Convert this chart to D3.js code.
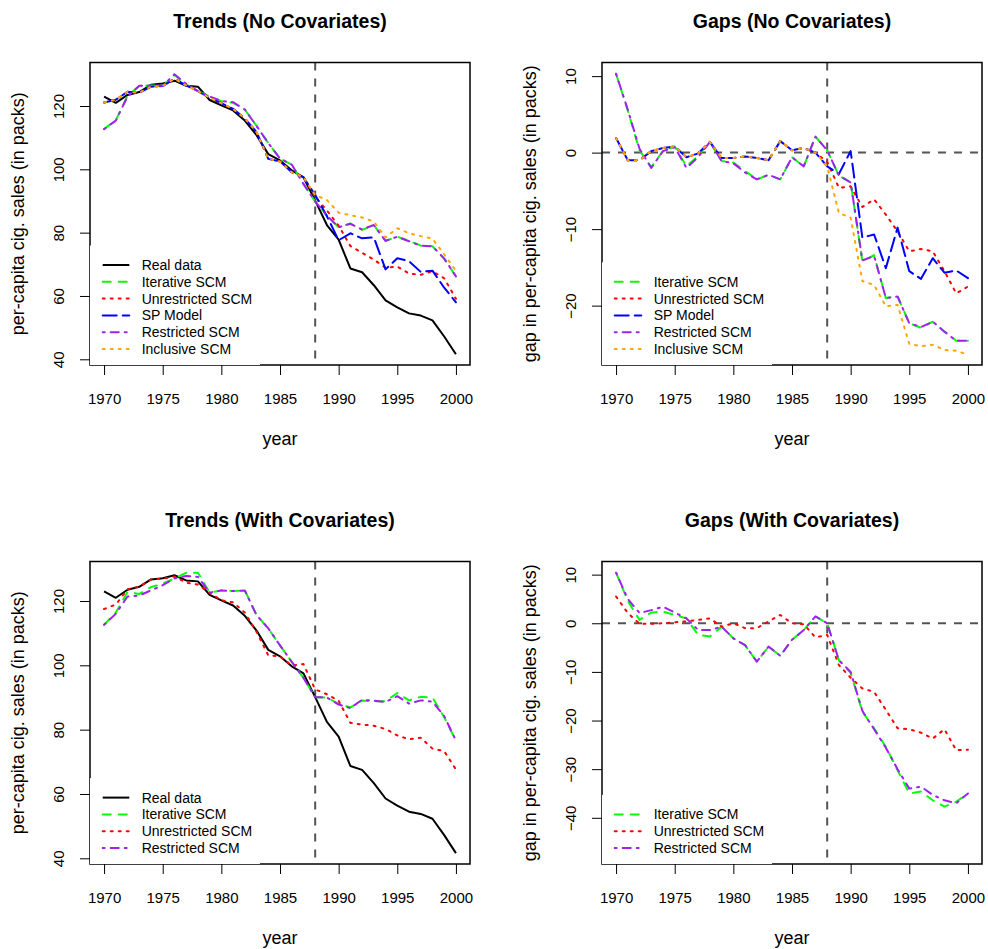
<!DOCTYPE html>
<html><head><meta charset="utf-8">
<script src="https://cdn.jsdelivr.net/npm/d3@7"></script>
<style>
body{margin:0;background:#fff}
svg{display:block}
text{font-family:"Liberation Sans",Arial,Helvetica,sans-serif;fill:#000}
</style>
</head><body>
<svg id="chart" width="988" height="949"></svg>
<script>
// ---------------- DATA ----------------
const years = [1970,1971,1972,1973,1974,1975,1976,1977,1978,1979,1980,1981,1982,1983,1984,1985,1986,1987,1988,1989,1990,1991,1992,1993,1994,1995,1996,1997,1998,1999,2000];
const xTicks = [1970,1975,1980,1985,1990,1995,2000];
const trendTicks = [40,60,80,100,120];
const gapTicksNoCov = [-20,-10,0,10];
const gapTicksCov = [-40,-30,-20,-10,0,10];
const treatmentYear = 1988;

const realData = [123,121,123.5,124.4,126.7,127.1,128,126.4,126.1,121.9,120.2,118.6,115.4,110.8,104.8,102.8,99.7,97.5,90.1,82.4,77.8,68.7,67.5,63.4,58.6,56.4,54.5,53.8,52.3,47.2,41.6];

// Trends (No Covariates)
const trendIterative    = [112.7,115.5,123.2,126.3,126.5,126.3,129.8,126.8,124.7,123.0,121.5,121.0,118.9,113.7,108.3,103.4,101.5,95.4,89.8,85.4,81.7,82.9,80.9,82.4,77.4,78.7,77.4,75.9,75.7,71.8,66.2];
const trendUnrestricted = [121.1,122.0,124.5,124.2,126.1,126.3,128.6,126.5,124.7,122.6,120.9,119.1,116.1,111.8,103.3,102.5,99.1,97.5,91.3,87.0,82.2,75.8,73.6,71.5,68.9,69.3,67.1,66.7,67.8,65.6,59.1];
const trendSP           = [121.1,122.0,124.5,124.2,126.1,126.3,128.6,126.5,124.7,122.6,120.9,119.1,116.1,111.8,103.3,102.5,99.1,97.5,91.9,85.2,77.6,79.8,78.2,78.5,68.4,71.9,71.0,67.6,68.0,62.6,58.0];
const trendRestricted   = [112.7,115.4,123.0,126.4,126.5,126.4,130.0,127.0,124.7,123.0,121.6,121.2,118.9,113.7,108.3,103.4,101.5,95.4,89.8,85.4,81.7,82.8,81.0,82.4,77.4,78.7,77.3,75.9,75.7,71.8,66.2];
const trendInclusive    = [121.1,122.0,124.5,124.2,126.1,126.3,128.6,126.5,124.7,122.6,120.9,119.1,116.1,111.8,103.3,102.5,99.1,97.5,91.9,90.3,86.3,85.5,84.8,83.5,78.5,81.4,79.8,78.9,78.1,73.1,68.0];

// Gaps (No Covariates)
const gapIterative    = [10.3,5.5,0.3,-1.9,0.2,0.8,-1.8,-0.4,1.4,-1.1,-1.3,-2.4,-3.5,-2.9,-3.5,-0.6,-1.8,2.1,0.3,-3.0,-3.9,-14.2,-13.4,-19.0,-18.8,-22.3,-22.9,-22.1,-23.4,-24.6,-24.6];
const gapUnrestricted = [1.9,-1.0,-1.0,0.2,0.6,0.8,-0.6,-0.1,1.4,-0.7,-0.7,-0.5,-0.7,-1.0,1.5,0.3,0.6,0.0,-1.2,-4.6,-4.4,-7.1,-6.1,-8.1,-10.3,-12.9,-12.6,-12.9,-15.5,-18.4,-17.5];
const gapSP           = [1.9,-1.0,-1.0,0.2,0.6,0.8,-0.6,-0.1,1.4,-0.7,-0.7,-0.5,-0.7,-1.0,1.5,0.3,0.6,0.0,-1.8,-2.8,0.2,-11.1,-10.7,-15.1,-9.8,-15.5,-16.5,-13.8,-15.7,-15.4,-16.4];
const gapRestricted   = [10.3,5.6,0.5,-2.0,0.2,0.7,-2.0,-0.6,1.4,-1.1,-1.4,-2.6,-3.5,-2.9,-3.5,-0.6,-1.8,2.1,0.3,-3.0,-3.9,-14.1,-13.5,-19.0,-18.8,-22.3,-22.8,-22.1,-23.4,-24.6,-24.6];
const gapInclusive    = [1.9,-1.0,-1.0,0.2,0.6,0.8,-0.6,-0.1,1.4,-0.7,-0.7,-0.5,-0.7,-1.0,1.5,0.3,0.6,0.0,-1.8,-7.9,-8.5,-16.8,-17.3,-20.1,-19.9,-25.0,-25.3,-25.1,-25.8,-25.9,-26.4];

// Trends (With Covariates)
const covTrendIterative    = [112.6,116.4,122.8,122.2,124.3,125.4,127.0,128.8,128.8,122.6,123.3,123.1,123.3,115.6,111.5,106.2,101.1,96.1,90.1,90.0,88.0,86.9,89.1,88.8,88.8,91.4,89.1,90.2,90.0,83.9,76.6];
const covTrendUnrestricted = [117.5,118.9,123.6,124.5,126.7,126.9,127.6,125.7,125.1,122.6,120.2,119.6,116.4,110.4,103.1,102.8,99.9,100.4,92.5,91.0,89.0,82.1,81.6,81.2,80.2,78.2,77.0,77.5,74.1,73.3,67.6];
const covTrendRestricted   = [112.6,116.0,121.4,121.7,123.3,124.9,127.0,127.8,127.5,122.6,123.3,123.1,123.3,115.6,111.5,106.2,101.1,96.1,90.1,90.0,87.8,86.7,89.3,89.0,88.6,90.4,88.1,89.1,88.7,84.2,76.6];

// Gaps (With Covariates)
const covGapIterative    = [10.4,4.6,0.7,2.2,2.4,1.7,1.0,-2.4,-2.7,-0.7,-3.1,-4.5,-7.9,-4.8,-6.7,-3.4,-1.4,1.4,0.0,-7.6,-10.2,-18.2,-21.6,-25.4,-30.2,-35.0,-34.6,-36.4,-37.7,-36.7,-35.0];
const covGapUnrestricted = [5.5,2.1,-0.1,-0.1,0.0,0.2,0.4,0.7,1.0,-0.7,0.0,-1.0,-1.0,0.4,1.7,0.0,-0.2,-2.9,-2.4,-8.6,-11.2,-13.4,-14.1,-17.8,-21.6,-21.8,-22.5,-23.7,-21.8,-26.1,-26.0];
const covGapRestricted   = [10.4,5.0,2.1,2.7,3.4,2.2,1.0,-1.4,-1.4,-0.7,-3.1,-4.5,-7.9,-4.8,-6.7,-3.4,-1.4,1.4,0.0,-7.6,-10.0,-18.0,-21.8,-25.6,-30.0,-34.0,-33.6,-35.3,-36.4,-37.0,-35.0];

// ---------------- STYLES ----------------
const STY = {
  real:  {label:"Real data",        color:"#000000", dash:null,       cap:"butt"},
  iter:  {label:"Iterative SCM",    color:"#00ff00", dash:"8,8",      cap:"round"},
  unres: {label:"Unrestricted SCM", color:"#ff0000", dash:"2,6",      cap:"round"},
  sp:    {label:"SP Model",         color:"#0000ff", dash:"14,6",     cap:"round"},
  restr: {label:"Restricted SCM",   color:"#a020f0", dash:"2,6,8,6",  cap:"round"},
  incl:  {label:"Inclusive SCM",    color:"#ffa500", dash:"2,6",      cap:"round"}
};

const panels = [
  {title:"Trends (No Covariates)", left:90, top:62.5, bottom:365, yDomain:[38.2,133.74], yTicks:trendTicks,
   ylab:"per-capita cig. sales (in packs)", hline:false,
   series:[["real",realData],["iter",trendIterative],["unres",trendUnrestricted],["sp",trendSP],["restr",trendRestricted],["incl",trendInclusive]]},
  {title:"Gaps (No Covariates)", left:602, top:62.5, bottom:365, yDomain:[-27.76,11.78], yTicks:gapTicksNoCov,
   ylab:"gap in per-capita cig. sales (in packs)", hline:true,
   series:[["iter",gapIterative],["unres",gapUnrestricted],["sp",gapSP],["restr",gapRestricted],["incl",gapInclusive]]},
  {title:"Trends (With Covariates)", left:90, top:561.5, bottom:864, yDomain:[38.23,132.28], yTicks:trendTicks,
   ylab:"per-capita cig. sales (in packs)", hline:false,
   series:[["real",realData],["iter",covTrendIterative],["unres",covTrendUnrestricted],["restr",covTrendRestricted]]},
  {title:"Gaps (With Covariates)", left:602, top:561.5, bottom:864, yDomain:[-49.5,12.7], yTicks:gapTicksCov,
   ylab:"gap in per-capita cig. sales (in packs)", hline:true,
   series:[["iter",covGapIterative],["unres",covGapUnrestricted],["restr",covGapRestricted]]}
];

const W = 380;
const svg = d3.select("#chart");
svg.append("rect").attr("width",988).attr("height",949).attr("fill","#fff");

panels.forEach(p => {
  const g = svg.append("g");
  const x = d3.scaleLinear().domain([1968.8, 2001.2]).range([p.left, p.left + W]);
  const y = d3.scaleLinear().domain(p.yDomain).range([p.bottom, p.top]);
  const cx = p.left + W / 2;

  // reference lines
  g.append("line")
    .attr("x1", x(treatmentYear)).attr("x2", x(treatmentYear))
    .attr("y1", p.top).attr("y2", p.bottom)
    .attr("stroke", "#555").attr("stroke-width", 2)
    .attr("stroke-dasharray", "8,8");
  if (p.hline) {
    g.append("line")
      .attr("x1", p.left).attr("x2", p.left + W)
      .attr("y1", y(0)).attr("y2", y(0))
      .attr("stroke", "#555").attr("stroke-width", 2)
      .attr("stroke-dasharray", "8,8");
  }

  // series
  const line = d3.line().x((d, i) => x(years[i])).y(d => y(d));
  p.series.forEach(([key, vals]) => {
    const s = STY[key];
    g.append("path").datum(vals)
      .attr("d", line)
      .attr("fill", "none")
      .attr("stroke", s.color)
      .attr("stroke-width", 2)
      .attr("stroke-linecap", s.cap)
      .attr("stroke-linejoin", "round")
      .attr("stroke-dasharray", s.dash);
  });

  // box
  g.append("rect")
    .attr("x", p.left).attr("y", p.top)
    .attr("width", W).attr("height", p.bottom - p.top)
    .attr("fill", "none").attr("stroke", "#000").attr("stroke-width", 1.5);

  // x axis
  const xa = g.append("g").attr("transform", `translate(0,${p.bottom})`)
    .call(d3.axisBottom(x).tickValues(xTicks).tickFormat(d3.format("d")).tickSize(10).tickPadding(18));
  xa.select(".domain").remove();
  xa.selectAll("line").attr("stroke", "#000").attr("stroke-width", 1);
  xa.selectAll("text").style("font-size", "15px").attr("fill", "#000");

  // y axis
  const ya = g.append("g").attr("transform", `translate(${p.left},0)`)
    .call(d3.axisLeft(y).tickValues(p.yTicks).tickSize(10));
  ya.select(".domain").remove();
  ya.selectAll("line").attr("stroke", "#000").attr("stroke-width", 1);
  ya.selectAll("text")
    .attr("x", null).attr("dy", null).attr("y", null)
    .attr("text-anchor", "middle")
    .attr("transform", "translate(-25.6,0) rotate(-90)")
    .style("font-size", "15px").attr("fill", "#000");

  // labels
  g.append("text").attr("x", cx).attr("y", p.top - 34.5)
    .attr("text-anchor", "middle").style("font-size", "19.5px").style("font-weight", "bold")
    .text(p.title);
  g.append("text").attr("x", cx).attr("y", p.bottom + 80)
    .attr("text-anchor", "middle").style("font-size", "18px").text("year");
  g.append("text")
    .attr("transform", `translate(${p.left - 66.5},${(p.top + p.bottom) / 2}) rotate(-90)`)
    .attr("text-anchor", "middle").style("font-size", "18px").text(p.ylab);

  // legend (bottom-left)
  const keys = p.series.map(d => d[0]);
  const step = 16.8;
  const lastRow = p.bottom - 16;
  const firstRow = lastRow - step * (keys.length - 1);
  g.append("rect")
    .attr("x", p.left).attr("y", firstRow - 19.5)
    .attr("width", 170).attr("height", p.bottom - (firstRow - 19.5))
    .attr("fill", "#fff");
  keys.forEach((k, i) => {
    const s = STY[k];
    const ry = firstRow + i * step;
    g.append("line")
      .attr("x1", p.left + 12.7).attr("x2", p.left + 39.3)
      .attr("y1", ry).attr("y2", ry)
      .attr("stroke", s.color).attr("stroke-width", 2)
      .attr("stroke-linecap", s.cap)
      .attr("stroke-dasharray", s.dash);
    g.append("text").attr("x", p.left + 51.7).attr("y", ry + 5)
      .style("font-size", "14px").text(s.label);
  });
});
</script>
</body></html>
